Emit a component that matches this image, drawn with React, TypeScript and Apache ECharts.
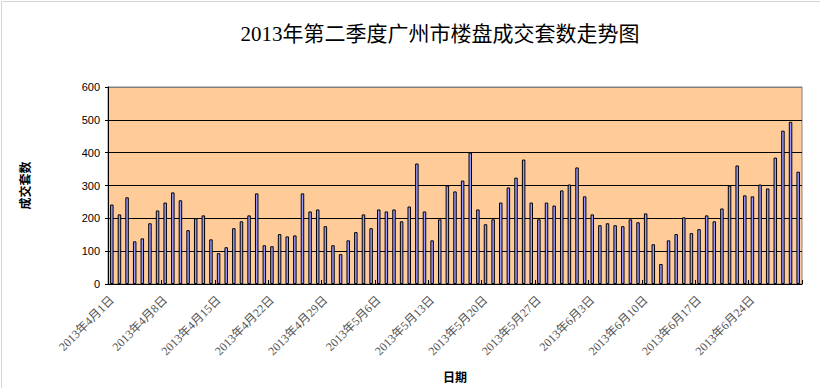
import React, { useEffect, useRef } from "react";
import * as echarts from "echarts";

const TITLE = "2013年第二季度广州市楼盘成交套数走势图";
const Y_NAME = "成交套数";
const X_NAME = "日期";

const YEAR = 2013;
const MONTHS = [4, 5, 6];
const MONTH_DAYS = [30, 31, 30];

const APRIL = [242, 212, 264, 130, 139, 185, 224, 248, 279, 255, 164, 200, 209, 136, 94, 112, 170, 191, 209, 276, 118, 115, 152, 145, 148, 276, 221, 227, 176, 118];
const MAY = [91, 133, 158, 212, 170, 227, 221, 227, 191, 236, 367, 221, 133, 197, 300, 282, 315, 400, 227, 182, 197, 248, 294, 324, 379, 248, 197, 248, 239, 285, 303];
const JUNE = [355, 267, 212, 179, 185, 179, 176, 197, 188, 215, 121, 61, 133, 152, 203, 155, 167, 209, 191, 230, 300, 361, 270, 267, 303, 291, 385, 467, 494, 342];

const Y_MIN = 0;
const Y_MAX = 600;
const Y_STEP = 100;

const categories: string[] = [];
MONTHS.forEach((m, i) => {
  for (let d = 1; d <= MONTH_DAYS[i]; d++) categories.push(`${YEAR}年${m}月${d}日`);
});
const values = [...APRIL, ...MAY, ...JUNE];

export default function App() {
  const ref = useRef<HTMLDivElement>(null);
  useEffect(() => {
    document.body.style.margin = "0";
    const chart = echarts.init(ref.current!, null, { renderer: "svg" });
    chart.setOption({
      animation: false,
      backgroundColor: "#ffffff",
      graphic: [
        {
          type: "rect",
          shape: { x: 1.5, y: 1.5, width: 900, height: 500 },
          style: { fill: "none", stroke: "#d4d4d4", lineWidth: 1 },
          silent: true,
        },
        {
          type: "text",
          x: 440,
          y: 34,
          style: {
            text: TITLE,
            textAlign: "center",
            textVerticalAlign: "middle",
            fontSize: 21,
            fontFamily: "'Liberation Serif','Noto Sans CJK SC',serif",
            fill: "#000",
          },
        },
      ],
      grid: {
        left: 108,
        right: 18,
        top: 87,
        bottom: 104,
        containLabel: false,
        outerBoundsMode: "none",
        show: true,
        backgroundColor: "#FFCC99",
        borderColor: "#808080",
        borderWidth: 1,
      },
      xAxis: {
        type: "category",
        data: categories,
        name: X_NAME,
        nameLocation: "middle",
        nameGap: 86,
        nameTextStyle: {
          fontSize: 12,
          fontWeight: "bold",
          color: "#000",
          fontFamily: "'Noto Sans CJK SC',sans-serif",
        },
        axisLine: { show: true, lineStyle: { color: "#000", width: 1 } },
        axisTick: { show: true, interval: 6, inside: true, length: 4, alignWithLabel: false, lineStyle: { color: "#000" } },
        axisLabel: {
          interval: 6,
          rotate: 45,
          margin: 14,
          fontSize: 12,
          color: "#555",
          fontFamily: "'Liberation Serif','Noto Sans CJK SC',serif",
        },
        splitLine: { show: false },
      },
      yAxis: {
        type: "value",
        min: Y_MIN,
        max: Y_MAX,
        interval: Y_STEP,
        name: Y_NAME,
        nameLocation: "middle",
        nameRotate: 90,
        nameGap: 78,
        nameTextStyle: {
          fontSize: 12,
          fontWeight: "bold",
          color: "#000",
          fontFamily: "'Noto Sans CJK SC',sans-serif",
        },
        axisLine: { show: true, lineStyle: { color: "#000", width: 1 } },
        axisTick: { show: true, length: 3, lineStyle: { color: "#000" } },
        axisLabel: {
          margin: 8,
          fontSize: 11,
          color: "#000",
          fontFamily: "'Liberation Sans',Arial,sans-serif",
        },
        splitLine: {
          show: true,
          lineStyle: {
            color: ["#000", "#000", "#000", "#000", "#000", "#000", "#808080"],
            width: 1,
          },
        },
      },
      series: [
        {
          type: "bar",
          data: values,
          barWidth: 3.5,
          itemStyle: { color: "#9999FF", borderColor: "#000", borderWidth: 1 },
        },
      ],
    });
    return () => chart.dispose();
  }, []);
  return <div ref={ref} style={{ width: 820, height: 388 }} />;
}
